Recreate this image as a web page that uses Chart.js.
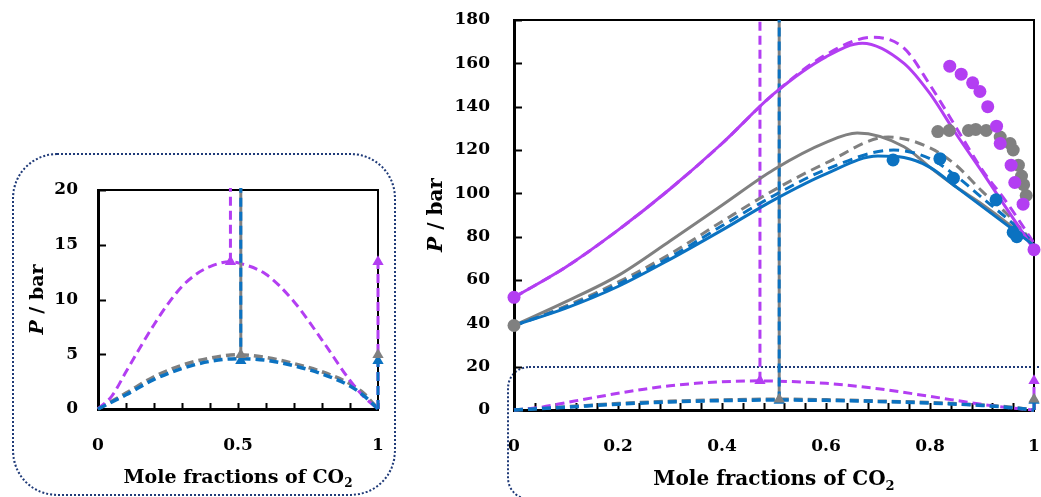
<!DOCTYPE html>
<html>
<head>
<meta charset="utf-8">
<script src="https://cdn.jsdelivr.net/npm/chart.js@4.4.1/dist/chart.umd.min.js"></script>
<style>
html, body { margin: 0; padding: 0; background: #fff; }
body { width: 1041px; height: 497px; position: relative; overflow: hidden; }
.wrap { position: absolute; }
#left-wrap { left: 0; top: 140px; width: 420px; height: 357px; }
#right-wrap { left: 420px; top: 0; width: 621px; height: 497px; }
.box { position: absolute; border: 2px dotted #1f3a78; box-sizing: border-box; }
#left-box { left: 12px; top: 153px; width: 384px; height: 343px; border-radius: 45px; }
#right-box { left: 507px; top: 366px; width: 560px; height: 134px; border-radius: 22px; }
</style>
</head>
<body>
<div class="box" id="left-box"></div>
<div class="box" id="right-box"></div>
<div class="wrap" id="left-wrap"><canvas id="left-chart" width="420" height="357"></canvas></div>
<div class="wrap" id="right-wrap"><canvas id="right-chart" width="621" height="497"></canvas></div>
<script>
//axis texts
const xTitleText = 'Mole fractions of CO';
const xTitleSub = '2';
const yTitleVar = 'P';
const yTitleUnit = ' / bar';

//high pressure model curves (x = mole fraction CO2, P in bar)
const purpleSolidX = [0, 0.1, 0.2, 0.3, 0.4, 0.5, 0.6, 0.67, 0.75, 0.8, 0.85, 0.9, 0.95, 1];
const purpleSolidP = [52, 66, 83, 102, 123, 146, 163, 169.3, 160, 146, 127.5, 110, 92, 74];
const purpleDashX = [0, 0.1, 0.2, 0.3, 0.4, 0.5, 0.6, 0.69, 0.75, 0.8, 0.85, 0.9, 0.95, 1];
const purpleDashP = [52, 66, 83, 102, 123, 146, 164, 172, 167, 150, 130.5, 111, 95, 77];
const graySolidX = [0, 0.1, 0.2, 0.3, 0.4, 0.5, 0.6, 0.66, 0.75, 0.8, 0.85, 0.9, 0.95, 1];
const graySolidP = [39, 50, 62, 78, 94.5, 111, 123.5, 127.8, 121.5, 112, 103, 95, 86, 76];
const grayDashX = [0, 0.1, 0.2, 0.3, 0.4, 0.5, 0.6, 0.72, 0.8, 0.85, 0.9, 0.95, 1];
const grayDashP = [39, 48, 59, 72, 87, 101.5, 114, 126, 121, 113, 101, 90, 77];
const blueSolidX = [0, 0.1, 0.2, 0.3, 0.4, 0.5, 0.6, 0.7, 0.75, 0.8, 0.85, 0.9, 0.95, 1];
const blueSolidP = [39, 47, 57, 69.5, 83, 97, 109, 117.2, 116.5, 112, 103, 94, 85, 76];
const blueDashX = [0, 0.1, 0.2, 0.3, 0.4, 0.5, 0.6, 0.73, 0.8, 0.85, 0.9, 0.95, 1];
const blueDashP = [39, 47.5, 58, 70.5, 85, 99, 111, 120, 116, 108, 98, 88, 77];

//experimental points
const purpleExpX = [0, 0.838, 0.86, 0.882, 0.896, 0.911, 0.928, 0.935, 0.956, 0.963, 0.979, 1];
const purpleExpP = [52, 158.7, 155, 151, 147, 140, 131, 123, 113, 105, 95, 74];
const grayExpX = [0, 0.815, 0.837, 0.874, 0.888, 0.908, 0.935, 0.954, 0.96, 0.97, 0.976, 0.98, 0.985];
const grayExpP = [39, 128.5, 129, 129, 129.5, 129, 126, 123, 120, 113, 108, 104, 99];
const blueExpX = [0.729, 0.819, 0.845, 0.927, 0.96, 0.967];
const blueExpP = [115.4, 116, 107, 97, 82, 80];

//low pressure curves
const purpleLowX = [0, 0.05, 0.1, 0.15, 0.2, 0.25, 0.3, 0.35, 0.4, 0.47, 0.5, 0.6, 0.7, 0.8, 0.9, 0.95, 1];
const purpleLowP = [0, 1.2, 3.4, 5.6, 7.7, 9.6, 11.2, 12.3, 13.0, 13.45, 13.35, 12.3, 9.8, 6.3, 2.6, 1.1, 0];
const grayLowX = [0, 0.1, 0.2, 0.3, 0.4, 0.5, 0.6, 0.7, 0.8, 0.9, 0.95, 1];
const grayLowP = [0, 1.45, 2.95, 4.0, 4.65, 4.95, 4.7, 4.15, 3.4, 2.3, 1.4, 0];
const blueLowX = [0, 0.1, 0.2, 0.3, 0.4, 0.5, 0.6, 0.7, 0.8, 0.9, 0.95, 1];
const blueLowP = [0, 1.3, 2.7, 3.7, 4.35, 4.6, 4.45, 3.95, 3.2, 2.1, 1.2, 0];

//triangles (critical points) and the vertical lines through them
const purpleTriX = [0.473, 1];
const purpleTriP = [13.45, 13.45];
const grayTriX = [0.51, 1];
const grayTriP = [4.95, 4.95];
const blueTriX = [0.51, 1];
const blueTriP = [4.4, 4.4];
const topP = 180;

const purple = '#b33ef2';
const gray = '#808080';
const blue = '#0b72c1';
const fontFamily = '"DejaVu Serif", serif';

function pts(xs, ys) {
    return xs.map((x, i) => ({x: x, y: ys[i]}));
}

//smooth line dataset
function curve(xs, ys, color, width, dash, order) {
    return {
        data: pts(xs, ys), showLine: true, borderColor: color, backgroundColor: color,
        borderWidth: width, borderDash: dash || [], pointRadius: 0,
        cubicInterpolationMode: 'monotone', order: order, clip: 2
    };
}

//straight segment (verticals)
function segment(x, p0, p1, color, width, dash, order) {
    return {
        data: [{x: x, y: p0}, {x: x, y: p1}], showLine: true, borderColor: color,
        borderWidth: width, borderDash: dash || [], pointRadius: 0, tension: 0,
        order: order, clip: 2
    };
}

function marks(xs, ys, color, style, radius, order) {
    return {
        data: pts(xs, ys), showLine: false, backgroundColor: color, borderColor: color,
        pointStyle: style, pointRadius: radius, pointBorderWidth: 0, order: order, clip: false
    };
}

//low pressure part, shared by both plots
function lowSets() {
    return [
        marks(purpleTriX, purpleTriP, purple, 'triangle', 6.5, 0),
        marks(grayTriX, grayTriP, gray, 'triangle', 6.5, 0),
        marks(blueTriX, blueTriP, blue, 'triangle', 6.5, 1),
        segment(purpleTriX[0], purpleTriP[0], topP, purple, 3, [9, 5], 7),
        segment(blueTriX[0], blueTriP[0], topP, blue, 3, [9, 5], 7),
        segment(grayTriX[0], grayTriP[0], topP, gray, 3, [], 8),
        segment(1, 0, purpleTriP[1], purple, 3, [9, 5], 8),
        segment(1, 0, blueTriP[1], blue, 3, [9, 5], 7),
        curve(blueLowX, blueLowP, blue, 3.5, [9, 5], 9),
        curve(grayLowX, grayLowP, gray, 3.5, [9, 5], 10),
        curve(purpleLowX, purpleLowP, purple, 3, [9, 5], 9)
    ];
}

//frame lines on top/right and ticks pointing into the plot
const innerTicks = {
    id: 'innerTicks',
    beforeDatasetsDraw(chart, args, o) {
        const ctx = chart.ctx;
        const a = chart.chartArea;
        const x = chart.scales.x, y = chart.scales.y;
        ctx.save();
        ctx.strokeStyle = '#000';
        ctx.lineWidth = 2;
        ctx.beginPath();
        ctx.moveTo(a.left, a.top);
        ctx.lineTo(a.right, a.top);
        ctx.lineTo(a.right, a.bottom);
        ctx.stroke();
        ctx.lineWidth = 2;
        ctx.beginPath();
        x.ticks.forEach(t => {
            const px = Math.round(x.getPixelForValue(t.value)) + 0.5;
            ctx.moveTo(px, a.bottom);
            ctx.lineTo(px, a.bottom - o.xLen);
        });
        y.ticks.forEach(t => {
            const py = Math.round(y.getPixelForValue(t.value)) + 0.5;
            ctx.moveTo(a.left, py);
            ctx.lineTo(a.left + o.yLen, py);
        });
        ctx.stroke();
        ctx.restore();
    }
};

//axis titles with italic P and subscript 2
const axisTitles = {
    id: 'axisTitles',
    afterDraw(chart, args, o) {
        const ctx = chart.ctx;
        const a = chart.chartArea;
        ctx.save();
        ctx.fillStyle = '#000';
        ctx.textBaseline = 'middle';
        ctx.textAlign = 'left';
        const big = 'bold ' + o.size + 'px ' + fontFamily;
        const small = 'bold ' + Math.round(o.size * 0.65) + 'px ' + fontFamily;
        ctx.font = big;
        const w1 = ctx.measureText(xTitleText).width;
        ctx.font = small;
        const w2 = ctx.measureText(xTitleSub).width;
        const x0 = (a.left + a.right) / 2 - (w1 + w2) / 2;
        ctx.font = big;
        ctx.fillText(xTitleText, x0, o.xTitleY);
        ctx.font = small;
        ctx.fillText(xTitleSub, x0 + w1, o.xTitleY + o.size * 0.32);

        ctx.translate(o.yTitleX, (a.top + a.bottom) / 2);
        ctx.rotate(-Math.PI / 2);
        const italic = 'italic bold ' + o.size + 'px ' + fontFamily;
        ctx.font = italic;
        const v = ctx.measureText(yTitleVar).width;
        ctx.font = big;
        const u = ctx.measureText(yTitleUnit).width;
        ctx.font = italic;
        ctx.fillText(yTitleVar, -(v + u) / 2, 0);
        ctx.font = big;
        ctx.fillText(yTitleUnit, -(v + u) / 2 + v, 0);
        ctx.restore();
    }
};

function makeChart(canvasId, cfg) {
    const tickFont = {family: fontFamily, weight: 'bold', size: cfg.tickSize};
    return new Chart(document.getElementById(canvasId), {
        type: 'scatter',
        data: {datasets: cfg.datasets},
        options: {
            responsive: false,
            animation: false,
            layout: {padding: cfg.padding},
            plugins: {
                legend: {display: false},
                tooltip: {enabled: false},
                innerTicks: {xLen: cfg.xTickLen, yLen: 8},
                axisTitles: {size: cfg.titleSize, xTitleY: cfg.xTitleY, yTitleX: cfg.yTitleX}
            },
            scales: {
                x: {
                    type: 'linear', min: 0, max: 1,
                    grid: {display: false, drawTicks: false},
                    border: {display: true, color: '#000', width: 3},
                    ticks: {
                        stepSize: cfg.xStep, autoSkip: false, maxRotation: 0,
                        color: '#000', font: tickFont, padding: cfg.xPad,
                        callback: v => {
                            const k = v / cfg.xLabelEvery;
                            return Math.abs(k - Math.round(k)) < 1e-6 ? String(Math.round(v * 10) / 10) : '';
                        }
                    },
                    afterFit: s => {
                        s.height = cfg.xHeight;
                        s.paddingLeft = 0;
                        s.paddingRight = 0;
                    }
                },
                y: {
                    type: 'linear', min: 0, max: cfg.yMax,
                    grid: {display: false, drawTicks: false},
                    border: {display: true, color: '#000', width: 3},
                    ticks: {stepSize: cfg.yStep, color: '#000', font: tickFont, padding: cfg.yPad},
                    afterFit: s => {
                        s.width = cfg.yWidth;
                        s.paddingTop = 0;
                        s.paddingBottom = 0;
                    }
                }
            }
        },
        plugins: [innerTicks, axisTitles]
    });
}

//right plot: full pressure range
const rightSets = [
    marks(purpleExpX, purpleExpP, purple, 'circle', 6.5, 0),
    marks(grayExpX, grayExpP, gray, 'circle', 6.5, 1),
    marks(blueExpX, blueExpP, blue, 'circle', 6.5, 0),
    curve(blueSolidX, blueSolidP, blue, 3, [], 2),
    curve(blueDashX, blueDashP, blue, 3, [10, 6], 3),
    curve(purpleSolidX, purpleSolidP, purple, 3, [], 2),
    curve(purpleDashX, purpleDashP, purple, 3, [10, 6], 3),
    curve(grayDashX, grayDashP, gray, 3, [10, 6], 4),
    curve(graySolidX, graySolidP, gray, 3, [], 4)
].concat(lowSets());

makeChart('right-chart', {
    datasets: rightSets,
    padding: {left: 0, top: 20, right: 7, bottom: 0},
    yWidth: 94, xHeight: 87, yMax: 180, yStep: 20,
    xStep: 0.04, xLabelEvery: 0.2, xTickLen: 7,
    tickSize: 17, titleSize: 20, xPad: 26, yPad: 24,
    xTitleY: 480, yTitleX: 17
});

//left plot: zoom on the low pressure part
makeChart('left-chart', {
    datasets: lowSets(),
    padding: {left: 0, top: 50, right: 42, bottom: 0},
    yWidth: 98, xHeight: 88, yMax: 20, yStep: 5,
    xStep: 0.1, xLabelEvery: 0.5, xTickLen: 6,
    tickSize: 17, titleSize: 19, xPad: 26, yPad: 20,
    xTitleY: 338, yTitleX: 38
});
</script>
</body>
</html>
